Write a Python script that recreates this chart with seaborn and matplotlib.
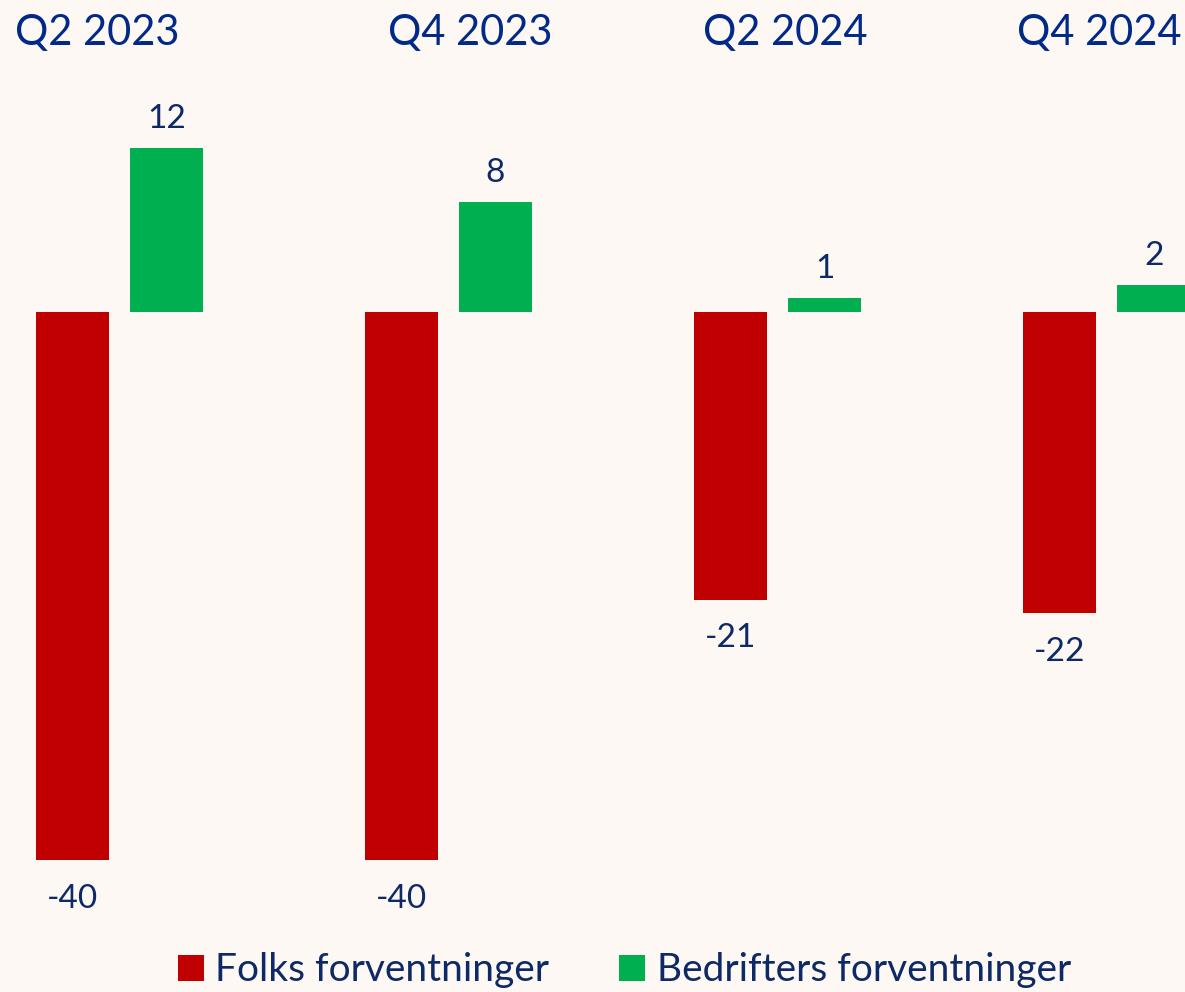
import matplotlib
matplotlib.use("Agg")
import matplotlib.pyplot as plt
import pandas as pd
import seaborn as sns

# data
quarters = ["Q2 2023", "Q4 2023", "Q2 2024", "Q4 2024"]
series = ["Folks forventninger", "Bedrifters forventninger"]
folks = [-40, -40, -21, -22]
bedrifter = [12, 8, 1, 2]

RED = "#C00000"
GREEN = "#00B050"
NAVY = "#0E2A66"
TITLE_BLUE = "#002A86"
BG = "#FDF8F4"

frame = pd.DataFrame(
    {
        "quarter": quarters * 2,
        "series": [series[0]] * len(quarters) + [series[1]] * len(quarters),
        "value": folks + bedrifter,
    }
)

sns.set_theme(style="white")
plt.rcParams["font.family"] = ["Lato", "DejaVu Sans"]

fig = plt.figure(figsize=(11.85, 9.92), dpi=100, facecolor=BG)
ax = fig.add_axes([0, 0, 1, 1])
sns.barplot(
    data=frame,
    x="quarter",
    y="value",
    hue="series",
    hue_order=series,
    palette=[RED, GREEN],
    width=0.571,
    gap=0.223,
    saturation=1,
    linewidth=0,
    ax=ax,
)

handles, labels = ax.get_legend_handles_labels()
ax.get_legend().remove()

ax.set_xlim(-0.363, 3.238)
ax.set_ylim(-49.64, 22.77)
ax.set_axis_off()

red_bars, green_bars = ax.containers[0], ax.containers[1]
ax.bar_label(red_bars, labels=[f"{v:d}" for v in folks], padding=17, fontsize=24, color=NAVY)
ax.bar_label(green_bars, labels=[f"{v:d}" for v in bedrifter], padding=10, fontsize=24, color=NAVY)

# quarter headings along the top
title_x = [0.082, 0.397, 0.663, 0.928]
for name, x in zip(quarters, title_x):
    fig.text(x, 0.9546, name, ha="center", va="baseline", fontsize=30, color=TITLE_BLUE)

leg = fig.legend(
    handles,
    labels,
    loc="lower center",
    bbox_to_anchor=(0.527, -0.012),
    ncol=2,
    frameon=False,
    fontsize=28,
    handlelength=0.66,
    handleheight=0.66,
    handletextpad=0.3,
    columnspacing=1.8,
    borderaxespad=0.0,
)
for text in leg.get_texts():
    text.set_color(NAVY)

fig.savefig("out.png", dpi=100, facecolor=BG)
